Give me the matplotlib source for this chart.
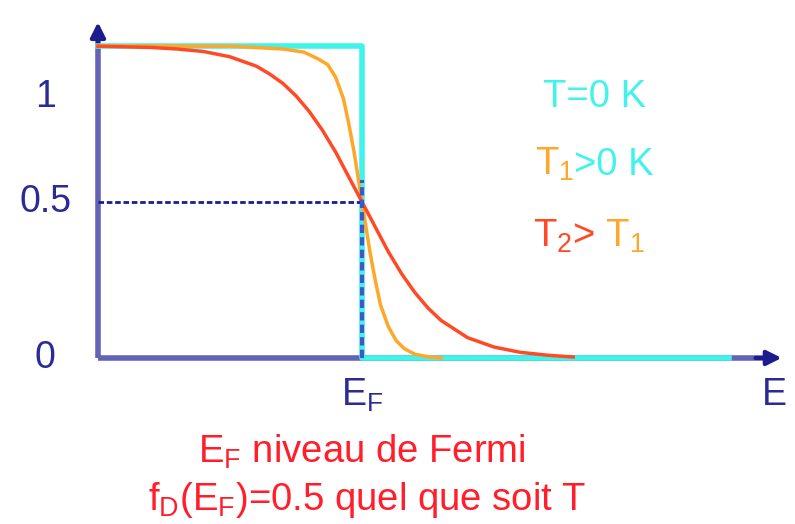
import matplotlib.pyplot as plt
from matplotlib.offsetbox import TextArea, HPacker, AnnotationBbox

plt.rcParams['font.family'] = ['Liberation Sans', 'DejaVu Sans']
plt.rcParams['mathtext.fontset'] = 'custom'
plt.rcParams['mathtext.rm'] = 'Liberation Sans'
plt.rcParams['mathtext.it'] = 'Liberation Sans'

# energie (E_F = 1) et occupation f
E_t0 = [0.0, 1.0, 1.0, 2.39]
f_t0 = [1.0, 1.0, 0.0, 0.0]

E_t1 = [0.0, 0.5, 0.7, 0.78, 0.83, 0.87, 0.9, 0.93, 0.95, 0.97, 1.0, 1.03, 1.05,
        1.07, 1.1, 1.13, 1.16, 1.2, 1.25, 1.3]
f_t1 = [1.0, 0.999, 0.99, 0.98, 0.96, 0.94, 0.90, 0.83, 0.75, 0.66, 0.5, 0.34, 0.25,
        0.17, 0.10, 0.055, 0.03, 0.012, 0.004, 0.0]

E_t2 = [0.0, 0.2, 0.3, 0.4, 0.5, 0.6, 0.65, 0.7, 0.75, 0.8, 0.85, 0.9, 0.95, 1.0,
        1.05, 1.1, 1.15, 1.2, 1.25, 1.3, 1.4, 1.5, 1.6, 1.7, 1.8]
f_t2 = [0.999, 0.995, 0.99, 0.982, 0.965, 0.935, 0.91, 0.88, 0.84, 0.79, 0.73, 0.66,
        0.58, 0.5, 0.42, 0.34, 0.27, 0.21, 0.16, 0.12, 0.065, 0.035, 0.018, 0.009, 0.003]

y_labels = ['0', '0.5', '1']
y_label_pos = [0.0, 0.5, 0.837]

c_axis = '#6262b8'
c_head = '#1c1c8e'
c_txt = '#2b2b98'
c_cyan = '#40f4ec'
c_orange = '#ffa72a'
c_red = '#ff4a26'
c_bottom = '#ff1e2a'

fig = plt.figure(figsize=(7.95, 5.24), dpi=100)
ax = fig.add_axes([0, 0, 1, 1])
ax.set_xlim(-0.371, 2.640)
ax.set_ylim(-0.532, 1.147)
ax.axis('off')

# axes
ax.plot([0, 0], [0, 1.03], color=c_axis, lw=4, solid_capstyle='butt', zorder=2)
ax.plot([0, 2.52], [0, 0], color=c_axis, lw=4, solid_capstyle='butt', zorder=2)
ax.annotate('', xy=(0, 1.085), xytext=(0, 1.0),
            arrowprops=dict(arrowstyle='-|>', color=c_head, lw=3, mutation_scale=22))
ax.annotate('', xy=(2.6, 0), xytext=(2.48, 0),
            arrowprops=dict(arrowstyle='-|>', color=c_head, lw=3, mutation_scale=22))

# courbes
ax.plot(E_t0, f_t0, color=c_cyan, lw=4, zorder=3)
ax.plot(E_t1, f_t1, color=c_orange, lw=2.5, zorder=4)
ax.plot(E_t2, f_t2, color=c_red, lw=2.5, zorder=5)

# reperes E_F et 0.5
ax.plot([0, 1.0], [0.5, 0.5], color=c_head, lw=2, ls=(0, (2, 1)), zorder=6)
ax.plot([1.0, 1.0], [0, 0.57], color='#3a5ac8', lw=3, ls=(0, (2, 1)), zorder=6)

for lab, pos in zip(y_labels, y_label_pos):
    ax.text(-0.2, pos, lab, color=c_txt, fontsize=27, ha='center', va='center')

ax.text(1.0, -0.12, r'E$\mathregular{_F}$', color=c_txt, fontsize=27, ha='center', va='center')
ax.text(2.56, -0.12, 'E', color=c_txt, fontsize=27, ha='center', va='center')


def multicolor(parts, xy, size=27.5):
    boxes = [TextArea(s, textprops=dict(color=c, fontsize=size)) for s, c in parts]
    pack = HPacker(children=boxes, align='baseline', pad=0, sep=0)
    ab = AnnotationBbox(pack, xy, xycoords='data', frameon=False, box_alignment=(0.5, 0.5))
    ax.add_artist(ab)


multicolor([('T=0 K', c_cyan)], (1.88, 0.835))
multicolor([(r'T$\mathregular{_1}$', c_orange), ('>0 K', c_cyan)], (1.88, 0.62))
multicolor([(r'T$\mathregular{_2}$>', c_red), (r'$\mathregular{\ }$T$\mathregular{_1}$', c_orange)],
           (1.86, 0.39))

ax.text(1.0, -0.30, r'E$\mathregular{_F}$ niveau de Fermi', color=c_bottom,
        fontsize=27.5, ha='center', va='center')
ax.text(1.02, -0.455, r'f$\mathregular{_D}$(E$\mathregular{_F}$)=0.5 quel que soit T',
        color=c_bottom, fontsize=27.5, ha='center', va='center')

fig.savefig('out.png', dpi=100)
